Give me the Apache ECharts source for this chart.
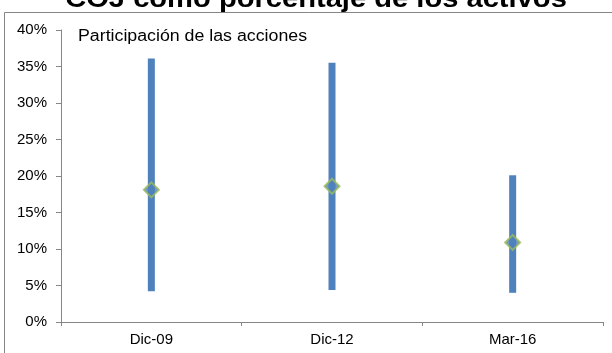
<!DOCTYPE html>
<html>
<head>
<meta charset="utf-8">
<script src="https://cdn.jsdelivr.net/npm/echarts@6/dist/echarts.min.js"></script>
<style>
  html, body { margin: 0; padding: 0; background: #fff; }
  #chart { width: 612px; height: 353px; }
</style>
</head>
<body>
<div id="chart"></div>
<script>
// Share of equities held in COJ portfolios, as a percentage of assets
const categories = ['Dic-09', 'Dic-12', 'Mar-16'];
const lowValues = [4.2, 4.4, 4.0];
const highValues = [36.1, 35.5, 20.1];
const midValues = [18.1, 18.6, 10.9];
const yTicks = [0, 5, 10, 15, 20, 25, 30, 35, 40];

const chart = echarts.init(document.getElementById('chart'), null, { renderer: 'canvas' });

const rangeData = categories.map((c, i) => [i, lowValues[i], highValues[i]]);
const midData = categories.map((c, i) => [i, midValues[i]]);

const axisGray = '#868686';
const font = '"Liberation Sans", Arial, sans-serif';

chart.setOption({
  animation: false,
  backgroundColor: '#fff',
  grid: { left: 61, right: 9, top: 30, bottom: 31, containLabel: false },
  xAxis: {
    type: 'category',
    data: categories,
    boundaryGap: true,
    axisLine: { lineStyle: { color: axisGray, width: 1 } },
    axisTick: { show: true, length: 4, lineStyle: { color: axisGray } },
    axisLabel: { color: '#000', fontFamily: font, fontSize: 15, margin: 10 },
    splitLine: { show: false }
  },
  yAxis: {
    type: 'value',
    min: yTicks[0],
    max: yTicks[yTicks.length - 1],
    interval: 5,
    axisLine: { show: true, lineStyle: { color: axisGray, width: 1 } },
    axisTick: { show: true, length: 5, lineStyle: { color: axisGray } },
    axisLabel: {
      color: '#000', fontFamily: font, fontSize: 15, margin: 14,
      formatter: v => v + '%'
    },
    splitLine: { show: false }
  },
  graphic: [
    {
      type: 'rect',
      shape: { x: 4.5, y: 12.5, width: 640, height: 400 },
      style: { fill: 'none', stroke: axisGray, lineWidth: 1 },
      z: -1, silent: true
    },
    {
      type: 'text',
      x: 316, y: -13,
      scaleX: 1.12,
      style: {
        text: 'COJ como porcentaje de los activos',
        font: 'bold 26px ' + font,
        fill: '#000',
        textAlign: 'center',
        textVerticalAlign: 'top'
      },
      z: 10
    },
    {
      type: 'text',
      x: 78, y: 29,
      scaleX: 1.11,
      style: {
        text: 'Participación de las acciones',
        font: '16px ' + font,
        fill: '#000',
        textVerticalAlign: 'top'
      }
    }
  ],
  series: [
    {
      type: 'custom',
      name: 'Rango',
      data: rangeData,
      encode: { x: 0, y: [1, 2] },
      renderItem: function (params, api) {
        const lo = api.coord([api.value(0), api.value(1)]);
        const hi = api.coord([api.value(0), api.value(2)]);
        const w = 7;
        return {
          type: 'rect',
          shape: { x: lo[0] - w / 2, y: hi[1], width: w, height: lo[1] - hi[1] },
          style: { fill: '#4F81BD' }
        };
      },
      z: 2
    },
    {
      type: 'scatter',
      name: 'Mediana',
      data: midData,
      symbol: 'diamond',
      symbolSize: [15, 15],
      itemStyle: { color: '#4F81BD', borderColor: '#9BBB59', borderWidth: 2 },
      z: 3
    }
  ]
});
</script>
</body>
</html>
